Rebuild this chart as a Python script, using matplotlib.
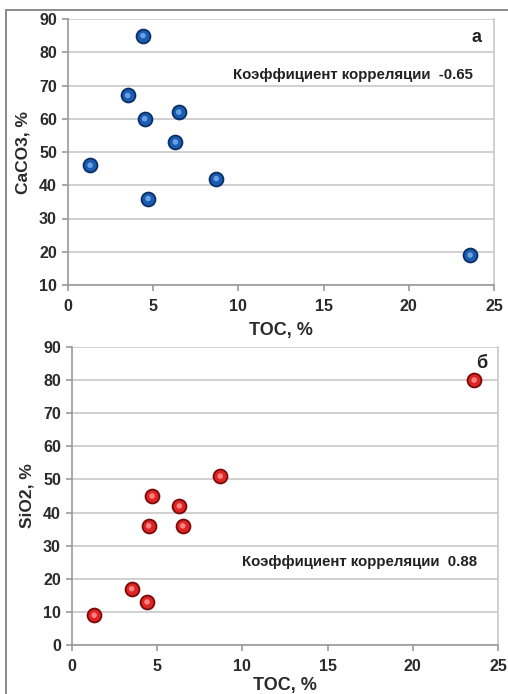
import matplotlib.pyplot as plt
from matplotlib.patches import Rectangle

plt.rcParams['font.family'] = ['Liberation Sans', 'DejaVu Sans']
plt.rcParams['font.weight'] = 'bold'

toc = [1.3, 3.5, 4.4, 4.5, 4.7, 6.3, 6.5, 8.7, 23.6]
caco3 = [46, 67, 85, 60, 36, 53, 62, 42, 19]
sio2 = [9, 17, 13, 36, 45, 42, 36, 51, 80]

xticks = [0, 5, 10, 15, 20, 25]
yticks_a = [10, 20, 30, 40, 50, 60, 70, 80, 90]
yticks_b = [0, 10, 20, 30, 40, 50, 60, 70, 80, 90]

fig = plt.figure(figsize=(5.08, 6.94), dpi=100)
fig.patches.append(Rectangle((6 / 508, -0.01), 1.1, 1 - 10 / 694 + 0.01,
                             transform=fig.transFigure, fill=False,
                             edgecolor='#777777', linewidth=1.2))

ax1 = fig.add_axes([68 / 508, 1 - 285 / 694, (494 - 68) / 508, (285 - 19) / 694])
ax2 = fig.add_axes([72 / 508, 1 - 645 / 694, (498 - 72) / 508, (645 - 347) / 694])


def style(ax, yticks, ylabel, xpad):
    ax.set_xlim(0, 25)
    ax.set_ylim(yticks[0], yticks[-1])
    ax.set_xticks(xticks)
    ax.set_yticks(yticks)
    ax.grid(axis='y', color='#c8c8c8', linewidth=1.2)
    ax.set_axisbelow(True)
    ax.spines['top'].set_visible(False)
    ax.spines['right'].set_color('#c8c8c8')
    ax.spines['left'].set_color('#999999')
    ax.spines['bottom'].set_color('#999999')
    for s in ['left', 'bottom', 'right']:
        ax.spines[s].set_linewidth(1.2)
    ax.tick_params(colors='#999999', labelcolor='#2a2a2a', labelsize=11.5,
                   length=4, width=1.2)
    ax.tick_params(axis='x', pad=6)
    ax.tick_params(axis='y', pad=4)
    ax.set_xlabel('TOC, %', fontsize=13, fontweight='bold', color='#2a2a2a', labelpad=xpad)
    ax.set_ylabel(ylabel, fontsize=12.5, fontweight='bold', color='#2a2a2a', labelpad=6)


def balls(ax, x, y, main, dark, light):
    ax.scatter(x, y, s=100, c=main, edgecolors=dark, linewidths=1.3, zorder=3)
    ax.scatter(x, y, s=16, c=light, edgecolors='none', zorder=4, alpha=0.8)


style(ax1, yticks_a, 'CaCO3, %', 6)
balls(ax1, toc, caco3, '#1a5cb0', '#0b2f66', '#7fb2f0')
ax1.text(0.97, 0.93, 'а', transform=ax1.transAxes, ha='right', va='center',
         fontsize=13, color='#222222')
ax1.text(0.95, 0.79, 'Коэффициент корреляции  -0.65', transform=ax1.transAxes,
         ha='right', va='center', fontsize=10.8, color='#222222')

style(ax2, yticks_b, 'SiO2, %', 2)
balls(ax2, toc, sio2, '#dd2525', '#7a0a0a', '#ff9a9a')
ax2.text(0.975, 0.945, 'б', transform=ax2.transAxes, ha='right', va='center',
         fontsize=13, color='#222222')
ax2.text(0.95, 0.28, 'Коэффициент корреляции  0.88', transform=ax2.transAxes,
         ha='right', va='center', fontsize=10.8, color='#222222')

fig.savefig('out.png', dpi=100)
